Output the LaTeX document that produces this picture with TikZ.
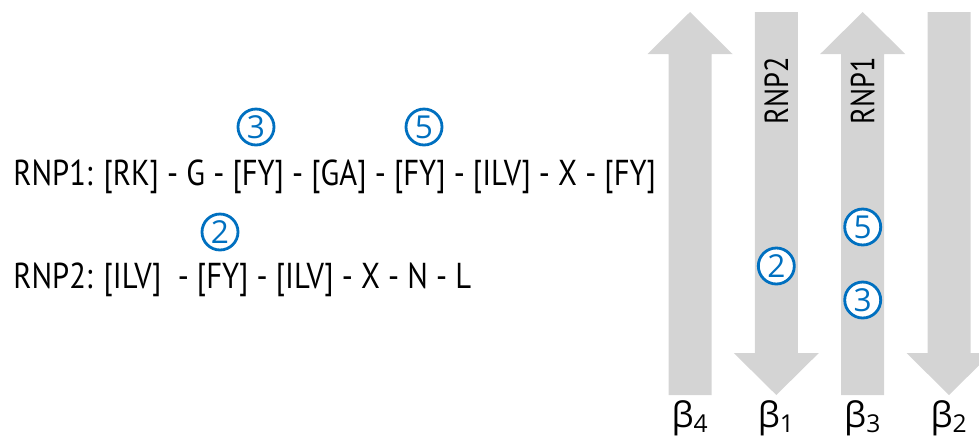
\documentclass[tikz,border=0pt]{standalone}
\usepackage{fontspec}
\setmainfont[FakeStretch=0.85]{PT Sans}
\newfontfamily\grkfont{Open Sans}
\usetikzlibrary{positioning}
\definecolor{sheetgray}{HTML}{D4D4D4}
\definecolor{siteblue}{HTML}{0070C0}
\tikzset{
  motif/.style={anchor=base west,inner sep=0pt,font=\fontsize{20.5}{24}\selectfont},
  site/.style={circle,draw=siteblue,fill=white,line width=1.6pt,text=siteblue,
    minimum size=0.72cm,inner sep=0pt,font=\grkfont\fontsize{18}{20}\selectfont},
  strandlab/.style={inner sep=0pt,font=\fontsize{19}{22}\selectfont},
}

\begin{document}
\begin{tikzpicture}[x=0.02cm,y=-0.02cm]
\useasboundingbox (0,0) rectangle (979,441);
% beta strands
\foreach \cx in {690,862.7}{\fill[sheetgray] (\cx-21.5,395)--(\cx-21.5,54)--(\cx-42.5,54)--(\cx,12)--(\cx+42.5,54)--(\cx+21.5,54)--(\cx+21.5,395)--cycle;}
\foreach \cx in {776.3,949}{\fill[sheetgray] (\cx-21.5,12)--(\cx-21.5,353)--(\cx-42.5,353)--(\cx,395)--(\cx+42.5,353)--(\cx+21.5,353)--(\cx+21.5,12)--cycle;}
\foreach \cx/\n in {690/4,776.3/1,862.7/3,949/2}{\node[strandlab] (b\n) at (\cx,418) {\grkfont\fontsize{20}{22}\selectfont β\textsubscript{\n}};}
\node[strandlab,rotate=90,anchor=west] (l2) at (776.3,125) {RNP2};
\node[strandlab,rotate=90,anchor=west] (l1) at (862.7,125) {RNP1};
% motifs
\node[motif] (rnp1) at (13,185) {RNP1: [RK] - G - [FY] - [GA] - [FY] - [ILV] - X - [FY]};
\node[motif] (rnp2) at (13,288) {RNP2: [ILV]\ \ - [FY] - [ILV] - X - N - L};
\node[site] (m3) at (256,127) {3};
\node[site] (m5) at (424,127) {5};
\node[site] (m2) at (220,232) {2};
% positions on the sheet
\node[site] (s2) at (776.3,266) {2};
\node[site] (s5) at (862.7,227) {5};
\node[site] (s3) at (862.7,300) {3};
\end{tikzpicture}
\end{document}
